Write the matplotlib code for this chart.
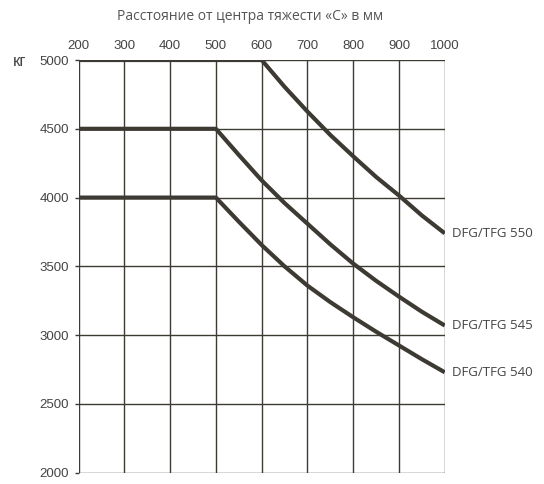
import matplotlib
matplotlib.use("Agg")
import matplotlib.pyplot as plt

# Data
x_ticks = [200, 300, 400, 500, 600, 700, 800, 900, 1000]
y_ticks = [2000, 2500, 3000, 3500, 4000, 4500, 5000]

x_550 = [200, 600, 650, 700, 750, 800, 850, 900, 950, 1000]
y_550 = [5000, 5000, 4805, 4625, 4455, 4300, 4150, 4015, 3870, 3740]

x_545 = [200, 500, 550, 600, 650, 700, 750, 800, 850, 900, 950, 1000]
y_545 = [4500, 4500, 4310, 4125, 3960, 3810, 3660, 3520, 3395, 3280, 3170, 3070]

x_540 = [200, 500, 550, 600, 650, 700, 750, 800, 850, 900, 950, 1000]
y_540 = [4000, 4000, 3825, 3655, 3500, 3360, 3240, 3130, 3025, 2925, 2825, 2730]

series = [("DFG/TFG 550", x_550, y_550),
          ("DFG/TFG 545", x_545, y_545),
          ("DFG/TFG 540", x_540, y_540)]

title = "Расстояние от центра тяжести «С» в мм"
unit = "кг"

dark = "#3d3a33"
txt = "#444444"

fig = plt.figure(figsize=(5.44, 4.84), dpi=100)
ax = fig.add_axes([0.1445, 0.0233, 0.6731, 0.8527])

for xv in x_ticks:
    ax.axvline(xv, color=dark, lw=1.0, zorder=1)
for yv in y_ticks:
    ax.axhline(yv, color=dark, lw=1.0, zorder=1)

for name, xs, ys in series:
    ax.plot(xs, ys, color=dark, lw=3.0, solid_capstyle="butt", solid_joinstyle="round", zorder=3)
    ax.text(xs[-1] + 15, ys[-1], name, ha="left", va="center",
            fontsize=9.5, color=txt, family=["Open Sans", "DejaVu Sans"])

ax.set_xlim(200, 1000)
ax.set_ylim(2000, 5000)
for s in ax.spines.values():
    s.set_visible(False)

tick_fam = ["Liberation Sans", "DejaVu Sans"]
ax.xaxis.tick_top()
ax.set_xticks(x_ticks)
ax.set_xticklabels([str(v) for v in x_ticks], family=tick_fam, fontsize=9.5, color=txt)
ax.set_yticks(y_ticks)
ax.set_yticklabels([str(v) for v in y_ticks], family=tick_fam, fontsize=9.5, color=txt)
ax.tick_params(axis="x", length=0, pad=6)
ax.tick_params(axis="y", length=3, width=1.0, color=dark, pad=4)

fig.text(0.024, 1 - 61 / 484, unit, ha="left", va="center", fontsize=12,
         color=txt, family=["Liberation Sans", "DejaVu Sans"])
fig.text(250 / 544, 1 - 16 / 484, title, ha="center", va="center", fontsize=10,
         color="#555555", family=["Open Sans", "DejaVu Sans"])

fig.savefig("out.png", dpi=100)
